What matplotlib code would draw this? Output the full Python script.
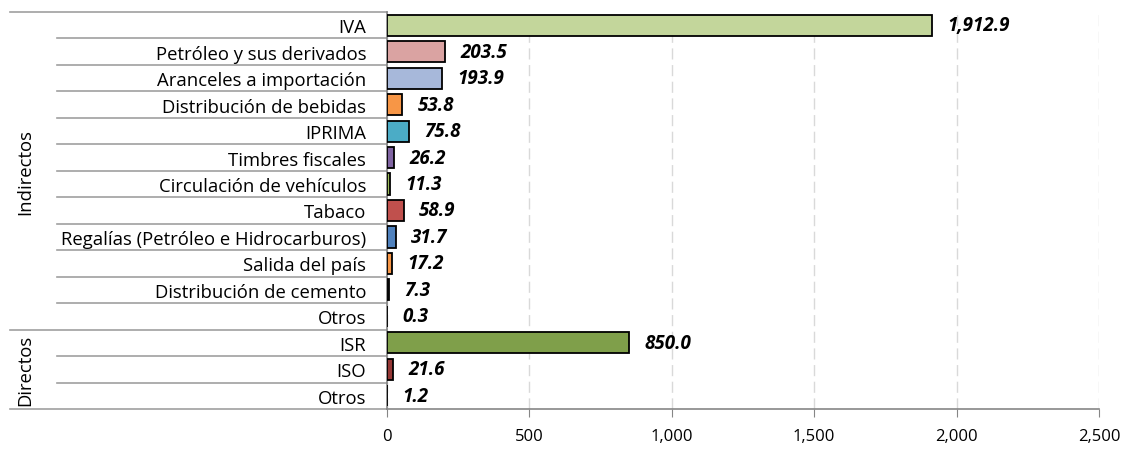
import numpy as np
import matplotlib.pyplot as plt
import matplotlib.transforms as mtransforms
from matplotlib.ticker import FuncFormatter

# data (millones)
categorias = ["IVA", "Petróleo y sus derivados", "Aranceles a importación",
              "Distribución de bebidas", "IPRIMA", "Timbres fiscales",
              "Circulación de vehículos", "Tabaco",
              "Regalías (Petróleo e Hidrocarburos)", "Salida del país",
              "Distribución de cemento", "Otros",
              "ISR", "ISO", "Otros"]
valores = [1912.9, 203.5, 193.9, 53.8, 75.8, 26.2, 11.3, 58.9,
           31.7, 17.2, 7.3, 0.3, 850.0, 21.6, 1.2]
colores = ["#C3D69B", "#DAA3A2", "#A7B8DA", "#F79646", "#4BACC6", "#8064A2",
           "#9BBB59", "#C0504D", "#4F81BD", "#F79646", "#404040", "#808080",
           "#7F9F4A", "#953735", "#808080"]
grupos = [("Indirectos", 0, 11), ("Directos", 12, 14)]

plt.rcParams['font.family'] = ['Open Sans', 'DejaVu Sans']

fig = plt.figure(figsize=(11.24, 4.77), dpi=100)
ax = fig.add_axes([387/1124, 1-410/477, 712/1124, 397/477])

y = np.arange(len(categorias))
ax.barh(y, valores, height=0.8, color=colores, edgecolor="black", linewidth=1.3, zorder=3)
for yi, v in zip(y, valores):
    ax.annotate(f"{v:,.1f}", (v, yi), xytext=(11, 0), textcoords="offset points",
                ha="left", va="center", fontsize=13.5, fontweight="bold", style="italic",
                color="black")

ax.set_xlim(0, 2500)
ax.set_ylim(len(categorias)-0.5, -0.5)
ax.set_xticks(np.arange(0, 2501, 500))
ax.xaxis.set_major_formatter(FuncFormatter(lambda v, p: f"{v:,.0f}"))
ax.set_yticks(y)
ax.set_yticklabels(categorias)
ax.tick_params(axis="y", length=0, pad=15, labelsize=13.3)
ax.tick_params(axis="x", length=6, color="#868686", labelsize=12, pad=8)
ax.grid(axis="x", color="#D9D9D9", linestyle=(0, (8, 4)), linewidth=1, zorder=0)

for s in ["top", "right"]:
    ax.spines[s].set_visible(False)
for s in ["left", "bottom"]:
    ax.spines[s].set_color("#868686")
    ax.spines[s].set_linewidth(1.2)

# left table lines
trans = mtransforms.blended_transform_factory(ax.transAxes, ax.transData)
x_outer = (10-387)/712
x_inner = (57-387)/712
bounds = {g[1]-0.5 for g in grupos} | {len(categorias)-0.5}
for b in np.arange(-0.5, len(categorias), 1.0):
    x0 = x_outer if b in bounds else x_inner
    ax.plot([x0, 0], [b, b], transform=trans, color="#A0A0A0", linewidth=1.2,
            clip_on=False, zorder=1)

for nombre, i0, i1 in grupos:
    ax.text(x_outer + 15/712, (i0+i1)/2, nombre, transform=trans, rotation=90,
            ha="center", va="center", fontsize=13.3)

fig.savefig("out.png", dpi=100)
